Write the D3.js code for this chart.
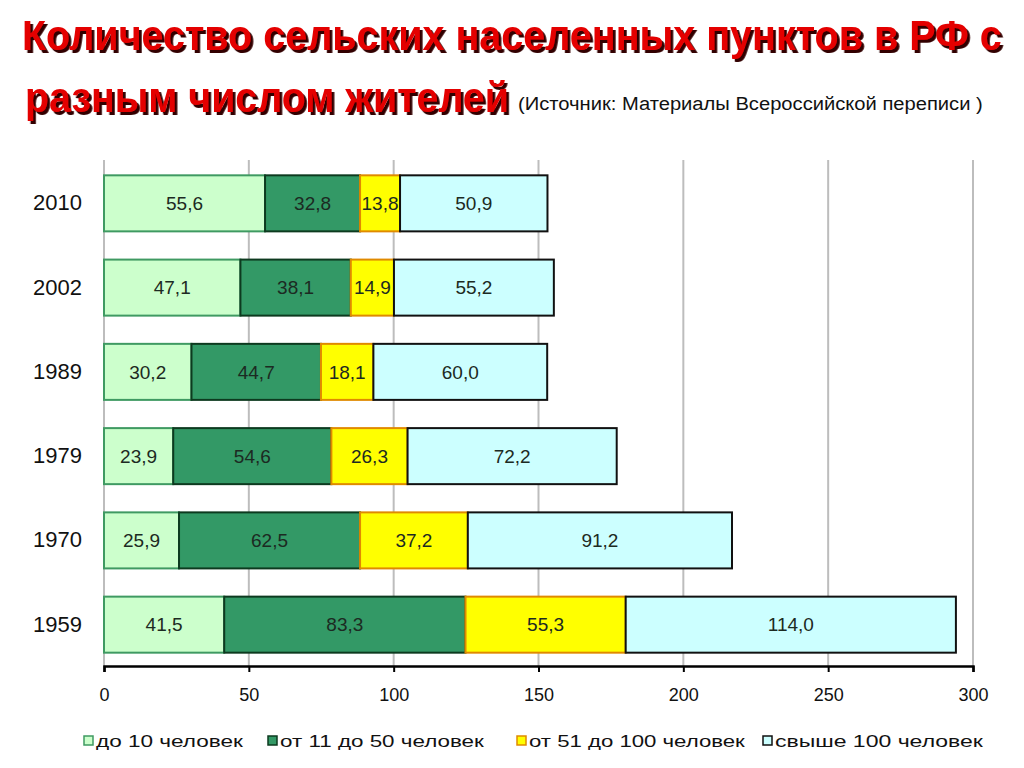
<!DOCTYPE html>
<html><head><meta charset="utf-8">
<script src="https://cdn.jsdelivr.net/npm/d3@7/dist/d3.min.js"></script>
<style>body{margin:0;background:#fff;}svg{display:block;}</style>
</head><body>
<svg id="c" width="1024" height="768"></svg>
<script>
const years = ["2010","2002","1989","1979","1970","1959"];
const seriesNames = ["до 10 человек","от 11 до 50 человек","от 51 до 100 человек","свыше 100 человек"];
const s1 = [55.6, 47.1, 30.2, 23.9, 25.9, 41.5];
const s2 = [32.8, 38.1, 44.7, 54.6, 62.5, 83.3];
const s3 = [13.8, 14.9, 18.1, 26.3, 37.2, 55.3];
const s4 = [50.9, 55.2, 60.0, 72.2, 91.2, 114.0];
const xTicks = [0, 50, 100, 150, 200, 250, 300];
const fills = ["#ccffcc","#339966","#ffff00","#ccffff"];
const strokes = ["#3f9a62","#0d3a1f","#e08a00","#111111"];

const svg = d3.select("#c");
const defs = svg.append("defs");
const f = defs.append("filter").attr("id","sh").attr("x","-5%").attr("y","-20%").attr("width","110%").attr("height","150%");
f.append("feDropShadow").attr("dx",3).attr("dy",3).attr("stdDeviation",0.6).attr("flood-color","#300000").attr("flood-opacity",1);

const x = d3.scaleLinear().domain([0,300]).range([104,973]);
const y = d3.scaleBand().domain(years).range([160,666]).paddingInner(0.335).paddingOuter(0.17);

// fit a text horizontally to a target width by scaling
function fitText(sel, xx, yy, len){
  const nat = sel.node().getComputedTextLength();
  sel.attr("x",0).attr("y",0).attr("transform",`translate(${xx},${yy}) scale(${len/nat},1)`);
}
function titleText(txt, xx, yy, size, len){
  const t = svg.append("text").text(txt)
    .attr("font-family","'Liberation Sans Narrow','Arial Narrow','Liberation Sans',sans-serif")
    .attr("font-weight","bold").attr("font-size",size).attr("fill","#e40000")
    .attr("filter","url(#sh)");
  fitText(t, xx, yy, len);
}
titleText("Количество сельских населенных пунктов в РФ с", 22, 50, 43, 980);
titleText("разным числом жителей", 25, 112, 43, 484);
const sub = svg.append("text").text("(Источник: Материалы Всероссийской переписи )")
  .attr("font-family","'Liberation Sans',Arial,sans-serif").attr("font-size",19).attr("fill","#111");
fitText(sub, 518, 110, 465);

// Grid
svg.append("g").selectAll("line").data(xTicks).join("line")
  .attr("x1",d=>x(d)).attr("x2",d=>x(d)).attr("y1",160).attr("y2",666)
  .attr("stroke","#bdbdbd").attr("stroke-width",2);

// Axis
const ax = svg.append("g").attr("transform","translate(0,666)")
  .call(d3.axisBottom(x).tickValues(xTicks).tickSize(6).tickPadding(16).tickFormat(d3.format("d")));
ax.select(".domain").attr("stroke","#000").attr("stroke-width",2.5);
ax.selectAll(".tick line").attr("stroke","#000").attr("stroke-width",2);
ax.selectAll("text").attr("font-family","'Liberation Sans',Arial,sans-serif").attr("font-size",18).attr("fill","#111");

// Year labels
svg.append("g").selectAll("text").data(years).join("text")
  .attr("x",82).attr("y",d=>y(d)+y.bandwidth()/2).attr("dy","0.36em")
  .attr("text-anchor","end").attr("font-family","'Liberation Sans',Arial,sans-serif")
  .attr("font-size",22).attr("fill","#111").text(d=>d);

// Bars
const series = [s1,s2,s3,s4];
const stack = years.map((yr,i)=>{
  let acc=0; return series.map((s,k)=>{const o={yr,k,v:s[i],x0:acc,x1:acc+s[i]}; acc+=s[i]; return o;});
});
series.forEach((s,k)=>{
  const g = svg.append("g");
  const segs = stack.map(r=>r[k]);
  g.selectAll("rect").data(segs).join("rect")
    .attr("x",d=>x(d.x0)).attr("width",d=>x(d.x1)-x(d.x0))
    .attr("y",d=>y(d.yr)+1).attr("height",y.bandwidth())
    .attr("fill",fills[k]).attr("stroke",strokes[k]).attr("stroke-width",2);
  g.selectAll("text").data(segs).join("text")
    .attr("x",d=>(x(d.x0)+x(d.x1))/2).attr("y",d=>y(d.yr)+1+y.bandwidth()/2).attr("dy","0.36em")
    .attr("text-anchor","middle").attr("font-family","'Liberation Sans',Arial,sans-serif")
    .attr("font-size",19).attr("fill","#1c2a22").text(d=>d.v.toFixed(1).replace(".",","));
});

// Legend
const legX = [84, 268, 517, 763];
const legLen = [147, 204, 216, 208];
const lg = svg.append("g");
seriesNames.forEach((n,k)=>{
  lg.append("rect").attr("x",legX[k]).attr("y",736).attr("width",9).attr("height",9)
    .attr("fill",fills[k]).attr("stroke",strokes[k]).attr("stroke-width",1.5);
  const t = lg.append("text").text(n)
    .attr("font-family","'Liberation Sans',Arial,sans-serif").attr("font-size",17).attr("fill","#111");
  fitText(t, legX[k]+12, 747, legLen[k]);
});
</script>
</body></html>
